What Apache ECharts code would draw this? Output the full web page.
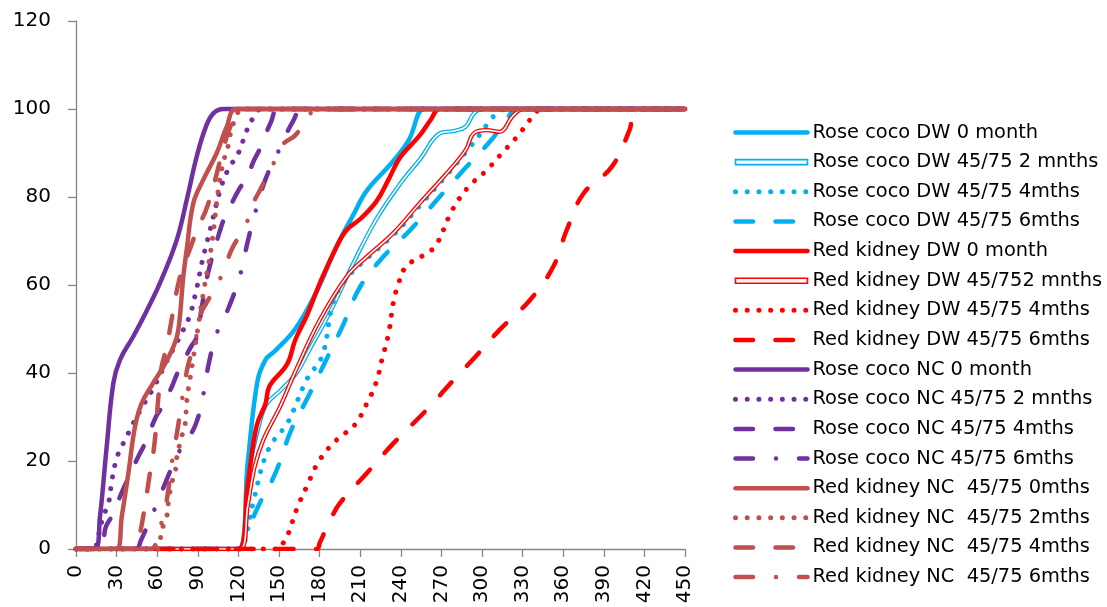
<!DOCTYPE html>
<html>
<head>
<meta charset="utf-8">
<script src="https://cdn.jsdelivr.net/npm/echarts@6/dist/echarts.min.js"></script>
<style>
html,body{margin:0;padding:0;background:#fff;}
#chart{width:1107px;height:607px;}
</style>
</head>
<body>
<div id="chart"></div>
<script>
// ---- data: [time, germination %] ----
const seriesNames = [
  'Rose coco DW 0 month',
  'Rose coco DW 45/75 2 mnths',
  'Rose coco DW 45/75 4mths',
  'Rose coco DW 45/75 6mths',
  'Red kidney DW 0 month',
  'Red kidney DW 45/752 mnths',
  'Red kidney DW 45/75 4mths',
  'Red kidney DW 45/75 6mths',
  'Rose coco NC 0 month',
  'Rose coco NC 45/75 2 mnths',
  'Rose coco NC 45/75 4mths',
  'Rose coco NC 45/75 6mths',
  'Red kidney NC  45/75 0mths',
  'Red kidney NC  45/75 2mths',
  'Red kidney NC  45/75 4mths',
  'Red kidney NC  45/75 6mths'
];
const xTickValues = [0,30,60,90,120,150,180,210,240,270,300,330,360,390,420,450];
const yTickValues = [0,20,40,60,80,100,120];

const roseDW0 = [[0,0],[120,0],[127,20],[134,38],[140,43],[147,45],[162,50],[177,58],[193,69],[205,76],[215,81.5],[234,88],[246,93],[257,100],[265,100],[450,100]];
const roseDW2 = [[0,0],[121,0],[128,18],[136,29],[141,33],[151,36],[163,40],[172,45],[188,54],[205,65],[222,75],[239.5,83],[254,88.5],[269,94.5],[279,95],[288,96],[294,99],[301,100],[450,100]];
const roseDW4 = [[0,0],[122,0],[125,2],[132,12],[142,22.5],[156,28.5],[160,31],[170.5,38.5],[182,44],[190,56],[200,61.5],[215,66],[235,71.5],[254,78],[274,85],[289,90.5],[298,94],[305,97],[311,99],[318,100],[450,100]];
const roseDW6 = [[0,0],[121,0],[124,2],[134.5,9.6],[147,17],[159,27],[171.5,34.6],[186,43.7],[197.5,51],[210,59.6],[227,66.4],[247,72.5],[266.6,79.3],[286,86],[307,93],[318,97.5],[326,100],[450,100]];
const redDW0 = [[0,0],[120,0],[127,15],[133.5,28],[140,33],[143,37],[156,42],[162,47.5],[170.5,53],[181,61],[193,69],[200,72.5],[210,75],[222,79],[231,84],[239.5,89],[254,94],[262,97.5],[269,100],[450,100]];
const redDW2 = [[0,0],[121,0],[127,10],[132,18.7],[138.4,24.8],[150.7,32.3],[163,41],[180,52],[200,61.9],[214.8,66.4],[234.5,71.8],[254,78.6],[274,85.4],[288,90.7],[294,94.5],[303.5,95.2],[313,94.8],[323,98.5],[331,100],[450,100]];
const redDW4 = [[0,0],[150,0],[153,1.3],[157,3.6],[163,9],[170.5,14.2],[180,20.2],[192.6,24.8],[206,28.2],[214.8,33],[222,38],[226,43],[231,49],[234.5,56],[238,60],[244,64.2],[259,67.2],[266,69],[278,77],[290,82.3],[303.5,86.1],[315.8,90.3],[327,94.1],[338,98.5],[344,100],[450,100]];
const redDW6 = [[0,0],[178,0],[180,1.3],[187,6],[195,10.4],[214.8,17.2],[234.5,24],[259,31.6],[279,38.4],[296,44],[313,49.8],[335.5,56.6],[352.7,64.2],[362.6,72.5],[375,80.8],[396,86.9],[409,95.2],[414,100],[450,100]];
const roseNC0 = [[0,0],[14,0],[17.7,7.3],[22.7,23.3],[27.6,37.7],[32.5,43],[42.3,48.3],[52,54],[62,60.4],[74.4,70.2],[81.8,79.3],[89.2,89.2],[96,96],[101.5,99],[108.8,100],[121,100],[450,100]];
const roseNC2 = [[0,0],[14,0],[15.3,1.3],[20,7.3],[24,10.4],[26.4,15.3],[30,20.6],[33.8,23.3],[37.4,25.5],[41,27.8],[49.7,32.7],[58,37],[66,42],[72,45.5],[78,49],[84,53],[89,59],[93,65],[97,70],[101.5,75.5],[106,81],[112,86],[120,90],[126,95],[131,98],[137,100],[450,100]];
const roseNC4 = [[0,0],[18,0],[22,5],[27.6,8],[34,13],[46,21],[51,24],[59,30],[63,32],[71,37],[75,40],[85,46],[89,48],[93,55],[97,62],[107,73],[111,76],[121,82],[126,84],[131,88],[136,91],[144,97],[150,100],[450,100]];
const roseNC6 = [[0,0],[44,0],[48,2],[58,9],[66,15],[76,22],[88,28],[94,35],[98,42],[104,49],[113,55],[121,62],[127,70],[132,76],[140,84],[149,90],[160,97],[168,100],[450,100]];
const redNC0 = [[0,0],[30,0],[33.8,7.3],[38.7,17.2],[43.6,27.8],[48.5,33.1],[57,37.7],[64.5,41.4],[72,46],[75.6,49.8],[79.3,61.9],[81.8,68],[86.7,78.6],[94,83.9],[104,90],[111.4,96],[118.8,100],[450,100]];
const redNC2 = [[0,0],[60,0],[62,1.7],[63.3,4.3],[67,7.3],[68.2,10.4],[70.7,15],[73.2,17.2],[74.4,20.6],[78,25.5],[80.5,28],[82,34],[86,42],[90,50],[94,58],[100,68.7],[106,83.5],[110,89.2],[112.6,91.8],[113.8,94],[118,98],[123,100],[450,100]];
const redNC4 = [[0,0],[45,0],[47,3],[50,8],[54,16],[58,24],[61,35],[63,41],[67,46],[70,51],[74,58],[78,63],[84,68],[90,73],[96,77],[102,83],[108,90],[114,96],[120,99],[126,100],[450,100]];
const redNC6 = [[0,0],[55,0],[60,2],[64.5,8],[67,11],[72,22],[74.4,26],[80.5,38],[83,42],[88,47],[91.6,53],[96.5,56],[105,60.4],[111,65],[116,68.7],[125,73.3],[131,78.6],[136,81.6],[145,87],[153,92],[162,94],[171,98],[178,100],[450,100]];

const seriesData = [roseDW0, roseDW2, roseDW4, roseDW6, redDW0, redDW2, redDW4, redDW6,
                    roseNC0, roseNC2, roseNC4, roseNC6, redNC0, redNC2, redNC4, redNC6];

// ---- styles ----
const CYAN = '#00B0F0', RED = '#FF0000', PURPLE = '#7030A0', BROWN = '#C0504D';
const colors = [CYAN, CYAN, CYAN, CYAN, RED, RED, RED, RED, PURPLE, PURPLE, PURPLE, PURPLE, BROWN, BROWN, BROWN, BROWN];
const W = 4.5;
const DOT = [0.01, 11.7];
const DASH = [17.5, 22.5];
const DASHDOT = [17.5, 23, 0.01, 23];
const kinds = ['solid','double','dot','dash','solid','double','dot','dash','solid','dot','dash','dashdot','solid','dot','dash','dashdot'];

function lineType(k){
  if (k === 'dot') return DOT;
  if (k === 'dash') return DASH;
  if (k === 'dashdot') return DASHDOT;
  return 'solid';
}

const series = [];
const legendData = [];
seriesNames.forEach(function(name, i){
  const k = kinds[i];
  const w = k === 'double' ? 4.2 : (k === 'dot' ? 5 : W);
  series.push({
    name: name,
    type: 'line',
    data: seriesData[i],
    smooth: 0.4,
    symbol: 'none',
    animation: false,
    color: colors[i],
    lineStyle: {
      color: colors[i],
      width: w,
      type: lineType(k),
      cap: 'round',
      join: 'round'
    }
  });
  if (k === 'double') {
    series.push({
      name: name + ' (inner)',
      type: 'line',
      data: seriesData[i],
      smooth: 0.4,
      symbol: 'none',
      animation: false,
      color: '#ffffff',
      lineStyle: { color: '#ffffff', width: 1.6, type: 'solid', cap: 'round' }
    });
    legendData.push({
      name: name,
      icon: 'path://M0,0L72,0L72,5L0,5Z',
      itemStyle: { color: '#ffffff', borderColor: colors[i], borderWidth: 1.6, opacity: 1 }
    });
  } else {
    legendData.push({
      name: name,
      itemStyle: { opacity: 0 },
      lineStyle: { width: w, cap: 'round', type: lineType(k), color: colors[i] }
    });
  }
});

const chart = echarts.init(document.getElementById('chart'), null, { renderer: 'canvas' });
const axisGray = '#868686';
chart.setOption({
  backgroundColor: '#ffffff',
  animation: false,
  textStyle: { fontFamily: 'DejaVu Sans' },
  grid: { left: 76, right: 422, top: 21, bottom: 58, containLabel: false },
  legend: {
    orient: 'vertical',
    left: 733,
    top: 121.5,
    padding: 0,
    itemWidth: 72,
    itemHeight: 8,
    itemGap: 7.64,
    selectedMode: false,
    data: legendData,
    textStyle: { fontFamily: 'DejaVu Sans', fontSize: 19.4, color: '#000', lineHeight: 22 }
  },
  xAxis: {
    type: 'value',
    min: xTickValues[0],
    max: xTickValues[xTickValues.length - 1],
    interval: 30,
    axisLine: { show: true, lineStyle: { color: axisGray, width: 1.3 } },
    axisTick: { show: true, length: 8, lineStyle: { color: axisGray, width: 1.3 } },
    splitLine: { show: false },
    axisLabel: { rotate: 90, margin: 16, fontSize: 20, color: '#000', fontFamily: 'DejaVu Sans' }
  },
  yAxis: {
    type: 'value',
    min: yTickValues[0],
    max: yTickValues[yTickValues.length - 1],
    interval: 20,
    axisLine: { show: true, lineStyle: { color: axisGray, width: 1.3 } },
    axisTick: { show: true, length: 8, lineStyle: { color: axisGray, width: 1.3 } },
    splitLine: { show: false },
    axisLabel: { margin: 25, fontSize: 20, color: '#000', fontFamily: 'DejaVu Sans' }
  },
  series: series
});
</script>
</body>
</html>
